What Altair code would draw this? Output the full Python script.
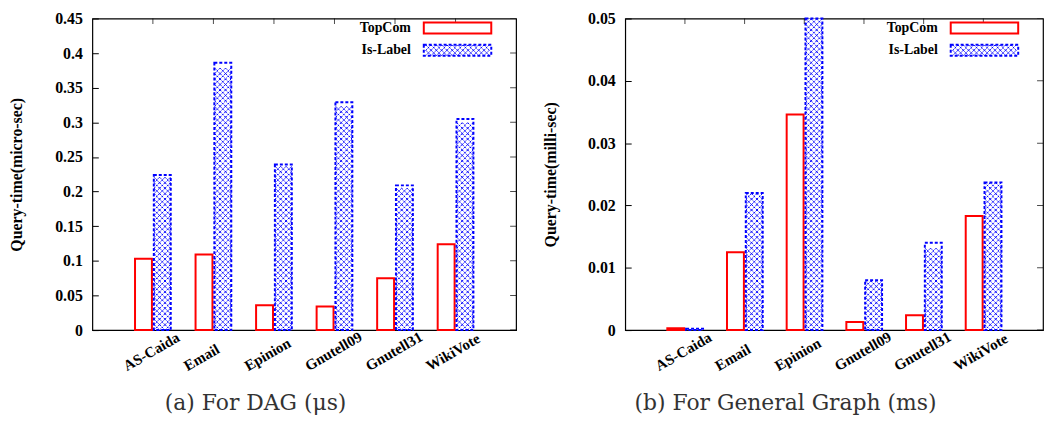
import altair as alt
import pandas as pd

# ---------------- data ----------------
datasets = ["AS-Caida", "Email", "Epinion", "Gnutell09", "Gnutell31", "WikiVote"]
series = ["TopCom", "Is-Label"]

dag_topcom = [0.103, 0.109, 0.036, 0.034, 0.075, 0.124]
dag_islabel = [0.224, 0.386, 0.239, 0.329, 0.209, 0.305]
gen_topcom = [0.0003, 0.0125, 0.0346, 0.0013, 0.0024, 0.0183]
gen_islabel = [0.0002, 0.0220, 0.0500, 0.0080, 0.0140, 0.0237]

dag_ticks = [0, 0.05, 0.1, 0.15, 0.2, 0.25, 0.3, 0.35, 0.4, 0.45]
gen_ticks = [0, 0.01, 0.02, 0.03, 0.04, 0.05]

dag_ytitle = "Query-time(micro-sec)"
gen_ytitle = "Query-time(milli-sec)"
dag_caption = "(a) For DAG (μs)"
gen_caption = "(b) For General Graph (ms)"

# ---------------- style ----------------
RED = "#ff0000"
BLUE = "#0000ff"
SERIF = "Liberation Serif"
H = 314


def xpath(ncols, nrows, cell):
    """Cross-hatch tile path (normalised symbol coordinates)."""
    w = ncols * cell
    h = nrows * cell
    x0 = -w / 2
    y0 = -h / 2
    parts = []
    for r in range(nrows):
        for c in range(ncols):
            x = x0 + c * cell
            y = y0 + r * cell
            parts.append(f"M{x:.4f},{y:.4f}L{x + cell:.4f},{y + cell:.4f}")
            parts.append(f"M{x + cell:.4f},{y:.4f}L{x:.4f},{y + cell:.4f}")
    return "".join(parts)


BAR_TILE_PX = 16.5
BAR_PATH = xpath(3, 1, 2 / 3)
LEG_PATH = xpath(12, 2, 1 / 6)


def panel(top, isl, ticks, ytitle, caption, width, title_pad, leg_text_x, leg_sw_x, cap_dx):
    ymax = ticks[-1]
    df = pd.DataFrame({
        "Dataset": datasets * 2,
        "Series": [series[0]] * len(datasets) + [series[1]] * len(datasets),
        "value": top + isl,
    })

    xscale = alt.Scale(paddingInner=0.41, paddingOuter=0.705)
    xaxis = alt.Axis(title=None, ticks=False, domain=False,
                     labelAngle=-30, labelAlign="left",
                     labelBaseline="alphabetic", labelOffset=-26,
                     labelPadding=41, labelFont=SERIF,
                     labelFontWeight="bold", labelFontSize=15,
                     labelColor="black", labelOverlap=False)
    xenc = alt.X("Dataset:N", sort=datasets, scale=xscale, axis=xaxis)
    xoff = alt.XOffset("Series:N", sort=series,
                       scale=alt.Scale(domain=series, paddingInner=0.1, paddingOuter=0))
    yscale = alt.Scale(domain=[0, ymax], nice=False, zero=True)
    yaxis = alt.Axis(title=ytitle, values=ticks, format="~g",
                     offset=-6, tickSize=6, tickColor="black",
                     domain=False, grid=False, labelPadding=10,
                     labelFont=SERIF, labelFontWeight="bold",
                     labelFontSize=16, labelColor="black",
                     titleFont=SERIF, titleFontWeight="bold",
                     titleFontSize=16, titleColor="black",
                     titlePadding=title_pad)

    def Y(field):
        return alt.Y(field, scale=yscale, axis=yaxis, title=ytitle)

    bars_top = alt.Chart(df).transform_filter(
        alt.datum.Series == series[0]
    ).mark_bar(fill="white", stroke=RED, strokeWidth=2).encode(
        x=xenc, xOffset=xoff, y=Y("value:Q"))

    bars_isl = alt.Chart(df).transform_filter(
        alt.datum.Series == series[1]
    ).mark_bar(fill="white", stroke=BLUE, strokeWidth=2, strokeDash=[3, 2]).encode(
        x=xenc, xOffset=xoff, y=Y("value:Q"))

    step = ymax / H * (BAR_TILE_PX / 3)
    hatch = alt.Chart(df).transform_filter(
        alt.datum.Series == series[1]
    ).transform_calculate(
        rows=f"sequence(0, floor(datum.value / {step}))"
    ).transform_flatten(["rows"]).transform_calculate(
        hy=f"(datum.rows + 0.5) * {step}"
    ).mark_point(shape=BAR_PATH, size=BAR_TILE_PX ** 2, filled=False,
                 stroke=BLUE, strokeWidth=1, strokeDash=[2, 1], opacity=1).encode(
        x=xenc, xOffset=xoff, y=Y("hy:Q"))

    top_ticks = alt.Chart(pd.DataFrame({"Dataset": datasets})).mark_tick(
        clip=True, orient="vertical", size=11, thickness=1, color="black"
    ).encode(x=xenc, y=alt.value(0))

    right_ticks = alt.Chart(pd.DataFrame({"t": ticks})).mark_tick(
        clip=True, orient="horizontal", size=12, thickness=1, color="black"
    ).encode(y=Y("t:Q"), x=alt.value(width))

    leg_df = pd.DataFrame({"s": series})
    leg_layers = []
    for i, s in enumerate(series):
        yc = 9.5 + 22.5 * i
        leg_layers.append(
            alt.Chart(leg_df).transform_filter(alt.datum.s == s).mark_text(
                align="right", baseline="middle", font=SERIF, fontWeight="bold",
                fontSize=14, color="black"
            ).encode(text="s:N", x=alt.value(leg_text_x), y=alt.value(yc))
        )
        if i == 0:
            leg_layers.append(
                alt.Chart(leg_df).transform_filter(alt.datum.s == s).mark_rect(
                    fill="white", stroke=RED, strokeWidth=2
                ).encode(x=alt.value(leg_sw_x), x2=alt.value(leg_sw_x + 68),
                         y=alt.value(yc - 5.5), y2=alt.value(yc + 5.5))
            )
        else:
            leg_layers.append(
                alt.Chart(leg_df).transform_filter(alt.datum.s == s).mark_rect(
                    fill="white", stroke=BLUE, strokeWidth=2, strokeDash=[3, 2]
                ).encode(x=alt.value(leg_sw_x), x2=alt.value(leg_sw_x + 68),
                         y=alt.value(yc - 5.5), y2=alt.value(yc + 5.5))
            )
            leg_layers.append(
                alt.Chart(leg_df).transform_filter(alt.datum.s == s).mark_point(
                    shape=LEG_PATH, size=64 ** 2, filled=False, stroke=BLUE,
                    strokeWidth=1, strokeDash=[2, 1], opacity=1
                ).encode(x=alt.value(leg_sw_x + 34), y=alt.value(yc))
            )

    return alt.layer(bars_top, bars_isl, hatch, top_ticks, right_ticks, *leg_layers).properties(
        width=width, height=H,
        title=alt.TitleParams(text=caption, orient="bottom", anchor="middle",
                              font="DejaVu Serif", fontSize=22, fontWeight="normal",
                              color="#333333", offset=20, dx=cap_dx),
    )


left = panel(dag_topcom, dag_islabel, dag_ticks, dag_ytitle, dag_caption,
             427, 30, 321, 334, -49)
right = panel(gen_topcom, gen_islabel, gen_ticks, gen_ytitle, gen_caption,
              421, 29, 315, 328, -49)

chart = alt.hconcat(left, right, spacing=25).properties(
    padding=0, background="white"
).configure_view(stroke="black", strokeWidth=1.2)

chart.save("out.html", embed_options={"renderer": "svg", "actions": False})
